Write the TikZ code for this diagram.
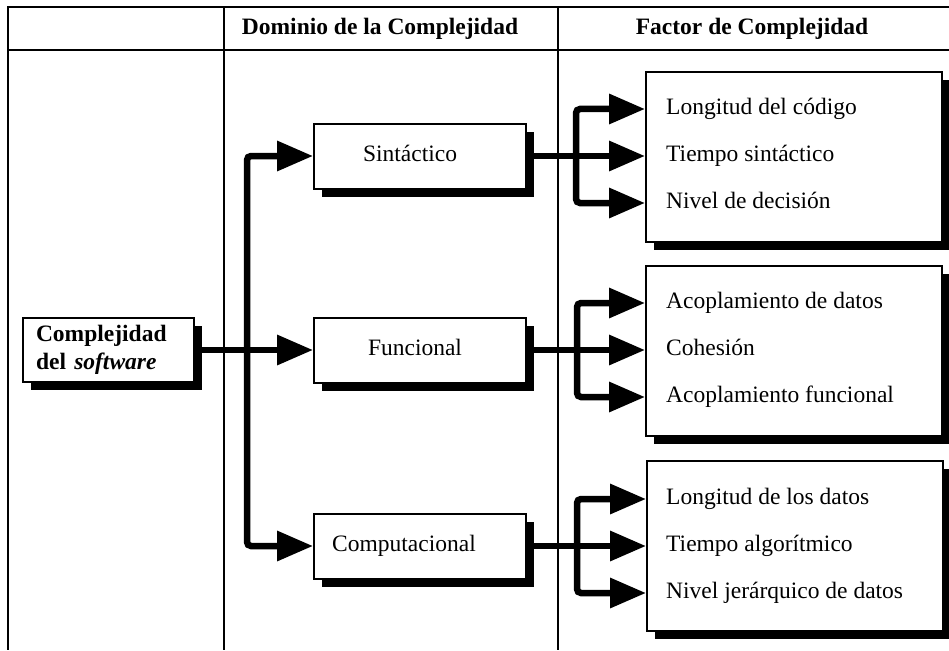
\documentclass[tikz,border=0pt]{standalone}
\usepackage{fontspec}
\setmainfont{Liberation Serif}
\usetikzlibrary{arrows.meta,shadows}
\newcommand\diagfont{\fontsize{23.5}{28}\selectfont}
\begin{document}
\begin{tikzpicture}[x=1pt,y=-1pt,
  every node/.style={font=\diagfont},
  rule/.style={line width=2pt},
  conn/.style={line width=6.5pt, rounded corners=4pt},
  tip/.style={-{Triangle[length=36pt,width=29pt]}},
  shadowed/.style={draw, line width=2pt, fill=white,
    drop shadow={shadow xshift=8pt, shadow yshift=-8pt, fill=black, opacity=1}},
  domainbox/.style={shadowed, minimum width=212pt, minimum height=65pt, inner sep=0pt,
    text height=16pt, text depth=5pt},
  factorbox/.style={shadowed, minimum width=296pt, minimum height=170pt, inner sep=0pt},
  itemtext/.style={anchor=west, inner sep=0pt, text height=16pt, text depth=5pt},
  headtext/.style={font=\diagfont\bfseries},
]
\useasboundingbox (0,0) rectangle (949,650);

% table frame
\draw[rule] (949,7) -- (8,7) -- (8,650);
\draw[rule] (8,50) -- (949,50);
\draw[line width=2.5pt] (224,7) -- (224,650);
\draw[line width=1.6pt] (558,7) -- (558,650);

% column headings
\node[headtext] (hdom) at (380,29) {Dominio de la Complejidad};
\node[headtext] (hfac) at (752,29) {Factor de Complejidad};

% root
\node[shadowed, minimum width=171pt, minimum height=64pt, inner sep=0pt,
  text width=145pt, align=left, font=\diagfont\bfseries] (soft) at (108.5,350)
  {Complejidad\\del\hspace{0.35em}\textit{software}};

% complexity domains (labels sit a little left of centre)
\node[domainbox] (sin)  at (420,156) {Sintáctico\hspace*{20pt}};
\node[domainbox] (fun)  at (420,350) {Funcional\hspace*{10pt}};
\node[domainbox] (comp) at (420,546) {Computacional\hspace*{32pt}};

% complexity factors
\node[factorbox] (fac1) at (794,157) {};
\node[factorbox] (fac2) at (794,351) {};
\node[factorbox] (fac3) at (795,546) {};

\node[itemtext] (l11) at (666,109) {Longitud del código};
\node[itemtext] (l12) at (666,156) {Tiempo sintáctico};
\node[itemtext] (l13) at (666,203) {Nivel de decisión};

\node[itemtext] (l21) at (666,303) {Acoplamiento de datos};
\node[itemtext] (l22) at (666,350) {Cohesión};
\node[itemtext] (l23) at (666,397) {Acoplamiento funcional};

\node[itemtext] (l31) at (666,499) {Longitud de los datos};
\node[itemtext] (l32) at (666,546) {Tiempo algorítmico};
\node[itemtext] (l33) at (666,593) {Nivel jerárquico de datos};

% branching points
\coordinate (tk) at (247,350);
\coordinate (r1) at (576,156);
\coordinate (r2) at (577,350);
\coordinate (r3) at (577,546);

% root to domains
\draw[conn,tip] (soft.east) -- (fun.west);
\draw[conn,tip] (tk |- fun.west) -- (tk |- sin.west) -- (sin.west);
\draw[conn,tip] (tk |- fun.west) -- (tk |- comp.west) -- (comp.west);

% domains to factors
\draw[conn,tip] (sin.east) -- (l12 -| fac1.west);
\draw[conn,tip] (r1 |- l12) -- (r1 |- l11) -- (l11 -| fac1.west);
\draw[conn,tip] (r1 |- l12) -- (r1 |- l13) -- (l13 -| fac1.west);

\draw[conn,tip] (fun.east) -- (l22 -| fac2.west);
\draw[conn,tip] (r2 |- l22) -- (r2 |- l21) -- (l21 -| fac2.west);
\draw[conn,tip] (r2 |- l22) -- (r2 |- l23) -- (l23 -| fac2.west);

\draw[conn,tip] (comp.east) -- (l32 -| fac3.west);
\draw[conn,tip] (r3 |- l32) -- (r3 |- l31) -- (l31 -| fac3.west);
\draw[conn,tip] (r3 |- l32) -- (r3 |- l33) -- (l33 -| fac3.west);
\end{tikzpicture}
\end{document}
